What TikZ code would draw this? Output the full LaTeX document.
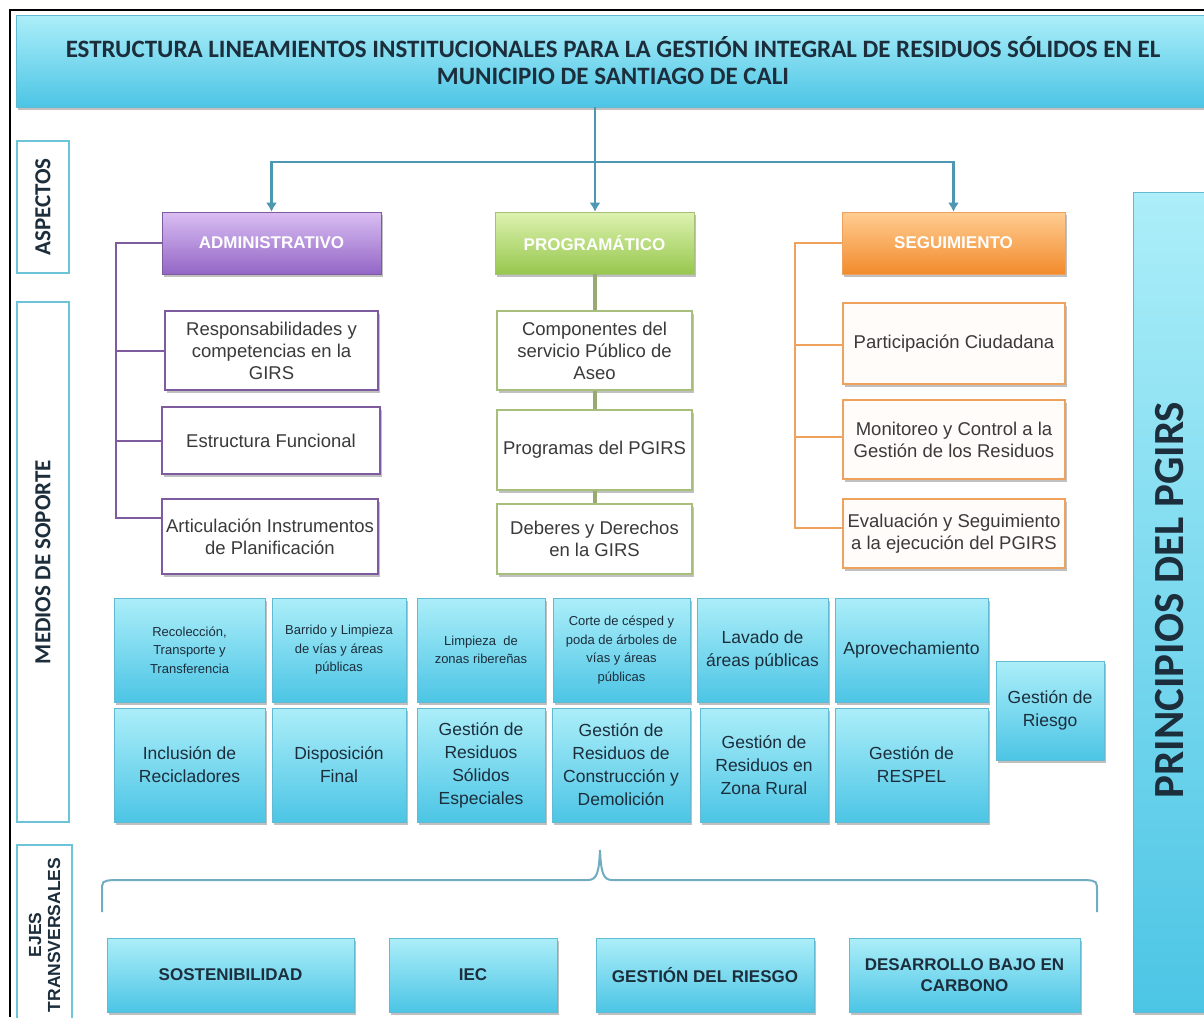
\documentclass[tikz,border=0pt]{standalone}
\usepackage{fontspec}
\setmainfont{Liberation Sans}
\newfontfamily\calfont{Carlito}
\usetikzlibrary{shadows,calc,arrows.meta}
\definecolor{cyT}{HTML}{ACEEF9}
\definecolor{cyB}{HTML}{4CC5E5}
\definecolor{cyD}{HTML}{62B9D2}
\definecolor{ink}{HTML}{1C2E3C}
\definecolor{gtxt}{HTML}{3A3A3A}
\definecolor{purT}{HTML}{D9BEF2}
\definecolor{purB}{HTML}{9366C6}
\definecolor{purL}{HTML}{7E5B9E}
\definecolor{grnT}{HTML}{DDF2B0}
\definecolor{grnB}{HTML}{97C74E}
\definecolor{grnL}{HTML}{A8BE7C}
\definecolor{oraT}{HTML}{FFCD92}
\definecolor{oraB}{HTML}{F28B2C}
\definecolor{oraL}{HTML}{EFA25E}
\definecolor{conn}{HTML}{4D97B2}
\definecolor{labL}{HTML}{6CC4D8}
\begin{document}
\begin{tikzpicture}[x=1pt,y=1pt,
  shad/.style={drop shadow={shadow xshift=1.5pt,shadow yshift=-2.5pt,opacity=0.35,fill=black!70}},
  cybox/.style={draw=cyD, line width=0.6pt, top color=cyT, bottom color=cyB, shad, align=center, inner sep=2pt, text=ink},
  small/.style={font=\fontsize{13}{18.5}\selectfont},
  big/.style={font=\fontsize{17.5}{23}\selectfont},
  lab/.style={draw=labL, line width=1.8pt, fill=white, inner sep=0pt, text=ink},
  head/.style={line width=0.6pt, shad, inner sep=0pt, text=white, font=\fontsize{17}{20}\selectfont\bfseries},
  sub/.style={fill=white, line width=1.4pt, shad, inner sep=1pt, align=center, text=gtxt, font=\fontsize{18.5}{22}\selectfont},
  conn/.style={draw=conn, line width=2.2pt},
  bottom/.style={cybox, font=\fontsize{17}{21}\selectfont\bfseries}
]
\useasboundingbox (0,0) rectangle (1204,-1017);
\fill[white] (0,0) rectangle (1204,-1017);
\draw[line width=1.5pt] (10,-1017) -- (10,-10) -- (1204,-10);

% title
\node[cybox, minimum width=1194, minimum height=92, font=\calfont\fontsize{25}{27}\selectfont\bfseries] (title) at (613,-61)
 {ESTRUCTURA LINEAMIENTOS INSTITUCIONALES PARA LA GESTIÓN INTEGRAL DE RESIDUOS SÓLIDOS EN EL\\MUNICIPIO DE SANTIAGO DE CALI};

% left labels
\node[lab, minimum width=52, minimum height=132] (asp) at (43,-207) {};
\node[rotate=90, text=ink, font=\calfont\fontsize{23}{24}\selectfont\bfseries] (asptxt) at (asp.center) {ASPECTOS};
\node[lab, minimum width=52, minimum height=520] (med) at (43,-562) {};
\node[rotate=90, text=ink, font=\calfont\fontsize{23}{24}\selectfont\bfseries] (medtxt) at (med.center) {MEDIOS DE SOPORTE};
\node[lab, minimum width=55, minimum height=180] (ejes) at (44.5,-935) {};
\node[rotate=90, text=ink, align=center, font=\fontsize{17.5}{19}\selectfont\bfseries] (ejestxt) at (44.5,-935) {EJES\\TRANSVERSALES};

% principios
\node[draw=cyD, line width=0.6pt, top color=cyT, bottom color=cyB, shad, minimum width=82, minimum height=820] (princ) at (1174,-602) {};
\node[rotate=90, text=ink, font=\calfont\fontsize{43}{44}\selectfont\bfseries] (princtxt) at (1170,-600) {PRINCIPIOS DEL PGIRS};

% headers
\node[head, draw=purL, top color=purT, bottom color=purB, minimum width=219, minimum height=62] (admin) at (271.5,-243) {ADMINISTRATIVO};
\node[head, draw=grnL, top color=grnT, bottom color=grnB, minimum width=199, minimum height=62] (prog) at (594.5,-243) {PROGRAMÁTICO};
\node[head, draw=oraL, top color=oraT, bottom color=oraB, minimum width=223, minimum height=62] (seg) at (953.5,-243) {SEGUIMIENTO};

% top connectors
\coordinate (hub) at (595,-162);
\draw[conn] (title.south -| hub) -- (hub);
\draw[conn,-{Latex[length=9pt,width=11pt]}] (hub) -- (hub |- prog.north);
\draw[conn,-{Latex[length=9pt,width=11pt]}] (hub) -| (admin.north);
\draw[conn,-{Latex[length=9pt,width=11pt]}] (hub) -| (seg.north);

% administrativo column
\node[sub, draw=purL, minimum width=213, minimum height=79] (resp) at (271.5,-350.5) {Responsabilidades y\\competencias en la\\GIRS};
\node[sub, draw=purL, minimum width=218, minimum height=67] (estr) at (271,-440.5) {Estructura Funcional};
\node[sub, draw=purL, minimum width=216, minimum height=75] (art) at (270,-536.5) {Articulación Instrumentos\\de Planificación};
\coordinate (abar) at (116,-243);
\coordinate (artin) at ($(art.west)+(0,19)$);
\draw[draw=purL, line width=2pt] (admin.west) -- (abar) |- (artin);
\draw[draw=purL, line width=2pt] (resp.west) -- (resp.west -| abar);
\draw[draw=purL, line width=2pt] (estr.west) -- (estr.west -| abar);

% programatico column
\node[sub, draw=grnL, minimum width=195, minimum height=79] (comp) at (594.5,-350.5) {Componentes del\\servicio Público de\\Aseo};
\node[sub, draw=grnL, minimum width=195, minimum height=80] (progs) at (594.5,-450) {Programas del PGIRS};
\node[sub, draw=grnL, minimum width=195, minimum height=70] (deb) at (594.5,-539) {Deberes y Derechos\\en la GIRS};
\draw[draw=grnL!90!black, line width=4pt] (prog.south) -- (comp.north);
\draw[draw=grnL!90!black, line width=4pt] (comp.south) -- (progs.north);
\draw[draw=grnL!90!black, line width=4pt] (progs.south) -- (deb.north);

% seguimiento column
\node[sub, draw=oraL, fill=orange!2, minimum width=222, minimum height=81] (part) at (954,-343.5) {Participación Ciudadana};
\node[sub, draw=oraL, fill=orange!2, minimum width=222, minimum height=79] (mon) at (954,-439.5) {Monitoreo y Control a la\\Gestión de los Residuos};
\node[sub, draw=oraL, fill=orange!2, minimum width=222, minimum height=69] (eval) at (954,-533.5) {Evaluación y Seguimiento\\a la ejecución del PGIRS};
\coordinate (sbar) at (795,-243);
\coordinate (evalin) at ($(eval.west)+(0,5.5)$);
\draw[draw=oraL, line width=2pt] (seg.west) -- (sbar) |- (evalin);
\draw[draw=oraL, line width=2pt] ($(part.west)+(0,-1.5)$) -- ($(part.west -| sbar)+(0,-1.5)$);
\draw[draw=oraL, line width=2pt] ($(mon.west)+(0,2.5)$) -- ($(mon.west -| sbar)+(0,2.5)$);

% grid row 1
\node[cybox, small, minimum width=151, minimum height=104] (g11) at (189.5,-650) {Recolección,\\Transporte y\\Transferencia};
\node[cybox, small, minimum width=134, minimum height=104] (g12) at (339,-650) {Barrido y Limpieza\\de vías y áreas\\públicas};
\node[cybox, small, minimum width=128, minimum height=104] (g13) at (481,-650) {Limpieza~ de\\zonas ribereñas};
\node[cybox, small, minimum width=137, minimum height=104] (g14) at (621.5,-650) {Corte de césped y\\poda de árboles de\\vías y áreas\\públicas};
\node[cybox, big, minimum width=131, minimum height=104] (g15) at (762.5,-650) {Lavado de\\áreas públicas};
\node[cybox, big, minimum width=153, minimum height=104] (g16) at (911.5,-650) {Aprovechamiento};
% grid row 2
\node[cybox, big, minimum width=151, minimum height=114] (g21) at (189.5,-765) {Inclusión de\\Recicladores};
\node[cybox, big, minimum width=134, minimum height=114] (g22) at (339,-765) {Disposición\\Final};
\node[cybox, big, minimum width=128, minimum height=114] (g23) at (481,-765) {Gestión de\\Residuos\\Sólidos\\Especiales};
\node[cybox, big, minimum width=138, minimum height=114] (g24) at (621,-765) {Gestión de\\Residuos de\\Construcción y\\Demolición};
\node[cybox, big, minimum width=128, minimum height=114] (g25) at (764,-765) {Gestión de\\Residuos en\\Zona Rural};
\node[cybox, big, minimum width=153, minimum height=114] (g26) at (911.5,-765) {Gestión de\\RESPEL};
\node[cybox, big, minimum width=108, minimum height=99] (g27) at (1050,-710.5) {Gestión de\\Riesgo};

% brace
\coordinate (bl) at (102,-912);
\coordinate (br) at (1097,-912);
\coordinate (tip) at (600,-850);
\draw[draw=conn!80, line width=2pt] (bl) -- (102,-892) .. controls (102,-881) .. (113,-880) -- (588,-880)
  .. controls (597,-880) and (599,-872) .. (tip) .. controls (601,-872) and (603,-880) .. (612,-880)
  -- (1086,-880) .. controls (1097,-881) .. (1097,-892) -- (br);

% bottom boxes
\node[bottom, minimum width=247, minimum height=74] (sost) at (230.5,-975) {SOSTENIBILIDAD};
\node[bottom, minimum width=168, minimum height=74] (iec) at (473,-975) {IEC};
\node[bottom, minimum width=218, minimum height=74] (gdr) at (705,-975) {GESTIÓN DEL RIESGO};
\node[bottom, minimum width=231, minimum height=74] (dbc) at (964.5,-975) {DESARROLLO BAJO EN\\CARBONO};
\end{tikzpicture}
\end{document}
